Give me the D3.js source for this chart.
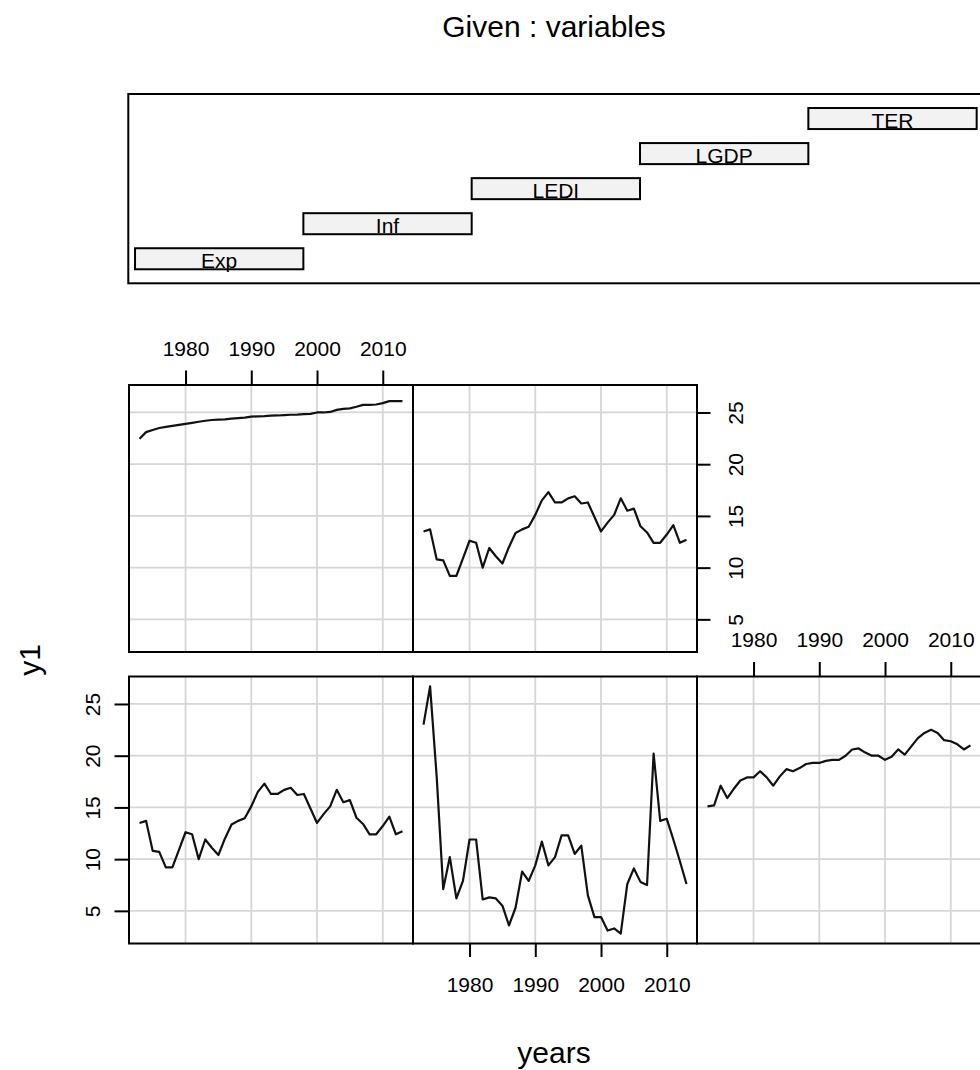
<!DOCTYPE html>
<html>
<head>
<meta charset="utf-8">
<script src="https://cdn.jsdelivr.net/npm/d3@7"></script>
<style>
  body { margin: 0; background: #fff; }
  text { font-family: "Liberation Sans", Arial, sans-serif; fill: #000; }
</style>
</head>
<body>
<div id="chart"></div>
<script>
var years = d3.range(1973, 2014)
var variables = ["Exp", "Inf", "LEDI", "LGDP", "TER"]

var expValues = [13.5, 13.7, 10.8, 10.7, 9.2, 9.2, 10.9, 12.6, 12.4, 10.0,
  11.9, 11.1, 10.4, 12.0, 13.35, 13.7, 13.95, 15.1, 16.5, 17.3,
  16.3, 16.3, 16.7, 16.9, 16.2, 16.3, 14.9, 13.5, 14.35, 15.1,
  16.7, 15.5, 15.7, 14.0, 13.4, 12.4, 12.4, 13.2, 14.1, 12.4, 12.7]
var infValues = [23.0, 26.7, 18.0, 7.1, 10.2, 6.2, 7.9, 11.9, 11.9, 6.1,
  6.3, 6.2, 5.5, 3.6, 5.3, 8.8, 7.9, 9.4, 11.7, 9.4,
  10.2, 12.3, 12.3, 10.5, 11.3, 6.5, 4.4, 4.4, 3.1, 3.3,
  2.8, 7.6, 9.1, 7.8, 7.5, 20.2, 13.7, 13.9, 11.9, 9.8, 7.6]
var lediValues = [15.1, 15.2, 17.1, 15.9, 16.8, 17.6, 17.9, 17.9, 18.5, 17.9,
  17.1, 18.0, 18.7, 18.5, 18.8, 19.2, 19.3, 19.3, 19.5, 19.6,
  19.6, 20.0, 20.6, 20.7, 20.3, 20.0, 20.0, 19.6, 19.9, 20.6,
  20.1, 20.9, 21.7, 22.2, 22.5, 22.2, 21.5, 21.4, 21.1, 20.6, 21.0]
var lgdpValues = [22.45, 23.1, 23.3, 23.5, 23.6, 23.7, 23.8, 23.9, 24.0, 24.1,
  24.2, 24.27, 24.3, 24.33, 24.4, 24.46, 24.5, 24.6, 24.62, 24.65,
  24.7, 24.71, 24.75, 24.78, 24.8, 24.84, 24.87, 25.0, 25.0, 25.05,
  25.25, 25.35, 25.4, 25.55, 25.73, 25.73, 25.77, 25.9, 26.1, 26.1, 26.1]
var terValues = [13.5, 13.7, 10.8, 10.7, 9.2, 9.2, 10.9, 12.6, 12.4, 10.0,
  11.9, 11.1, 10.4, 12.0, 13.35, 13.7, 13.95, 15.1, 16.5, 17.3,
  16.3, 16.3, 16.7, 16.9, 16.2, 16.3, 14.9, 13.5, 14.35, 15.1,
  16.7, 15.5, 15.7, 14.0, 13.4, 12.4, 12.4, 13.2, 14.1, 12.4, 12.7]

var xTicks = [1980, 1990, 2000, 2010]
var yTicks = [5, 10, 15, 20, 25]

var seriesByVariable = {
  Exp: expValues, Inf: infValues, LEDI: lediValues, LGDP: lgdpValues, TER: terValues
}

var width = 980,
  height = 1070,
  panelW = 284,
  panelH = 267,
  colLeft = [129, 413, 697],
  rowTop = [385, 676.5],
  font = 21

var svg = d3.select("#chart")
  .append("svg")
  .attr("width", width)
  .attr("height", height)

// titles
svg.append("text")
  .attr("x", 554).attr("y", 37)
  .attr("text-anchor", "middle")
  .style("font-size", "30px")
  .text("Given : variables")

svg.append("text")
  .attr("x", 554).attr("y", 1063)
  .attr("text-anchor", "middle")
  .style("font-size", "30px")
  .text("years")

svg.append("text")
  .attr("transform", "translate(39.5,660) rotate(-90)")
  .attr("text-anchor", "middle")
  .style("font-size", "30px")
  .text("y1")

// given panel
var gx = d3.scaleLinear().domain([0.46, 5.54]).range([128.3, 983.4])
var gy = d3.scaleLinear().domain([0.3, 5.7]).range([283.3, 94])

svg.append("rect")
  .attr("x", gx(0.46)).attr("y", gy(5.7))
  .attr("width", gx(5.54) - gx(0.46)).attr("height", gy(0.3) - gy(5.7))
  .attr("fill", "none").attr("stroke", "#000").attr("stroke-width", 2)

var bars = svg.append("g").selectAll("g")
  .data(variables)
  .enter().append("g")

bars.append("rect")
  .attr("x", function (d, i) { return gx(i + 0.5) })
  .attr("y", function (d, i) { return gy(i + 1.3) })
  .attr("width", function (d, i) { return gx(i + 1.5) - gx(i + 0.5) })
  .attr("height", function (d, i) { return gy(i + 0.7) - gy(i + 1.3) })
  .attr("fill", "#f2f2f2")

bars.append("text")
  .attr("x", function (d, i) { return (gx(i + 0.5) + gx(i + 1.5)) / 2 })
  .attr("y", function (d, i) { return gy(i + 1) + font * 0.358 + 1.5 })
  .attr("text-anchor", "middle")
  .style("font-size", font + "px")
  .text(function (d) { return d })

bars.append("rect")
  .attr("x", function (d, i) { return gx(i + 0.5) })
  .attr("y", function (d, i) { return gy(i + 1.3) })
  .attr("width", function (d, i) { return gx(i + 1.5) - gx(i + 0.5) })
  .attr("height", function (d, i) { return gy(i + 0.7) - gy(i + 1.3) })
  .attr("fill", "none").attr("stroke", "#000").attr("stroke-width", 2)

// conditioning panels
var allValues = d3.merge(variables.map(function (v) { return seriesByVariable[v] }))
var ext = d3.extent(allValues)
var pad = (ext[1] - ext[0]) * 0.04

var x = d3.scaleLinear().domain([1971.4, 2014.6]).range([0, panelW])
var y = d3.scaleLinear().domain([ext[0] - pad, ext[1] + pad]).range([panelH, 0])

var axisSide = { Exp: "left", Inf: "bottom", LEDI: "top", LGDP: "top", TER: "right" }

var line = d3.line()
  .x(function (d, i) { return x(years[i]) })
  .y(function (d) { return y(d) })

variables.forEach(function (v, idx) {
  var col = idx % 3
  var row = idx < 3 ? 1 : 0
  var g = svg.append("g")
    .attr("transform", "translate(" + colLeft[col] + "," + rowTop[row] + ")")

  g.selectAll(".vgrid").data(xTicks).enter().append("line")
    .attr("x1", x).attr("x2", x).attr("y1", 0).attr("y2", panelH)
    .attr("stroke", "#d6d6d6").attr("stroke-width", 1.8)
  g.selectAll(".hgrid").data(yTicks).enter().append("line")
    .attr("y1", y).attr("y2", y).attr("x1", 0).attr("x2", panelW)
    .attr("stroke", "#d6d6d6").attr("stroke-width", 1.8)

  g.append("path")
    .datum(seriesByVariable[v])
    .attr("d", line)
    .attr("fill", "none")
    .attr("stroke", "#111")
    .attr("stroke-width", 2.2)
    .attr("stroke-linejoin", "round")

  g.append("rect")
    .attr("width", panelW).attr("height", panelH)
    .attr("fill", "none").attr("stroke", "#000").attr("stroke-width", 2)

  var side = axisSide[v]
  var ax
  if (side === "top") {
    ax = g.append("g").call(d3.axisTop(x).tickValues(xTicks).tickSize(14.5).tickSizeOuter(0).tickPadding(15).tickFormat(d3.format("d")))
  } else if (side === "bottom") {
    ax = g.append("g").attr("transform", "translate(0," + panelH + ")")
      .call(d3.axisBottom(x).tickValues(xTicks).tickSize(13.5).tickSizeOuter(0).tickPadding(20.5).tickFormat(d3.format("d")))
  } else if (side === "left") {
    ax = g.append("g").call(d3.axisLeft(y).tickValues(yTicks).tickSize(14.5).tickSizeOuter(0))
    ax.selectAll("text")
      .attr("x", null).attr("dy", null)
      .attr("text-anchor", "middle")
      .attr("transform", "translate(-29.5,0) rotate(-90)")
  } else {
    ax = g.append("g").attr("transform", "translate(" + panelW + ",0)")
      .call(d3.axisRight(y).tickValues(yTicks).tickSize(13.5).tickSizeOuter(0))
    ax.selectAll("text")
      .attr("x", null).attr("dy", null)
      .attr("text-anchor", "middle")
      .attr("transform", "translate(46,0) rotate(-90)")
  }
  ax.select(".domain").remove()
  ax.selectAll("line").attr("stroke", "#000").attr("stroke-width", 2)
  ax.selectAll("text")
    .style("font-size", font + "px")
    .style("font-family", "'Liberation Sans', Arial, sans-serif")
    .attr("fill", "#000")
})
</script>
</body>
</html>
